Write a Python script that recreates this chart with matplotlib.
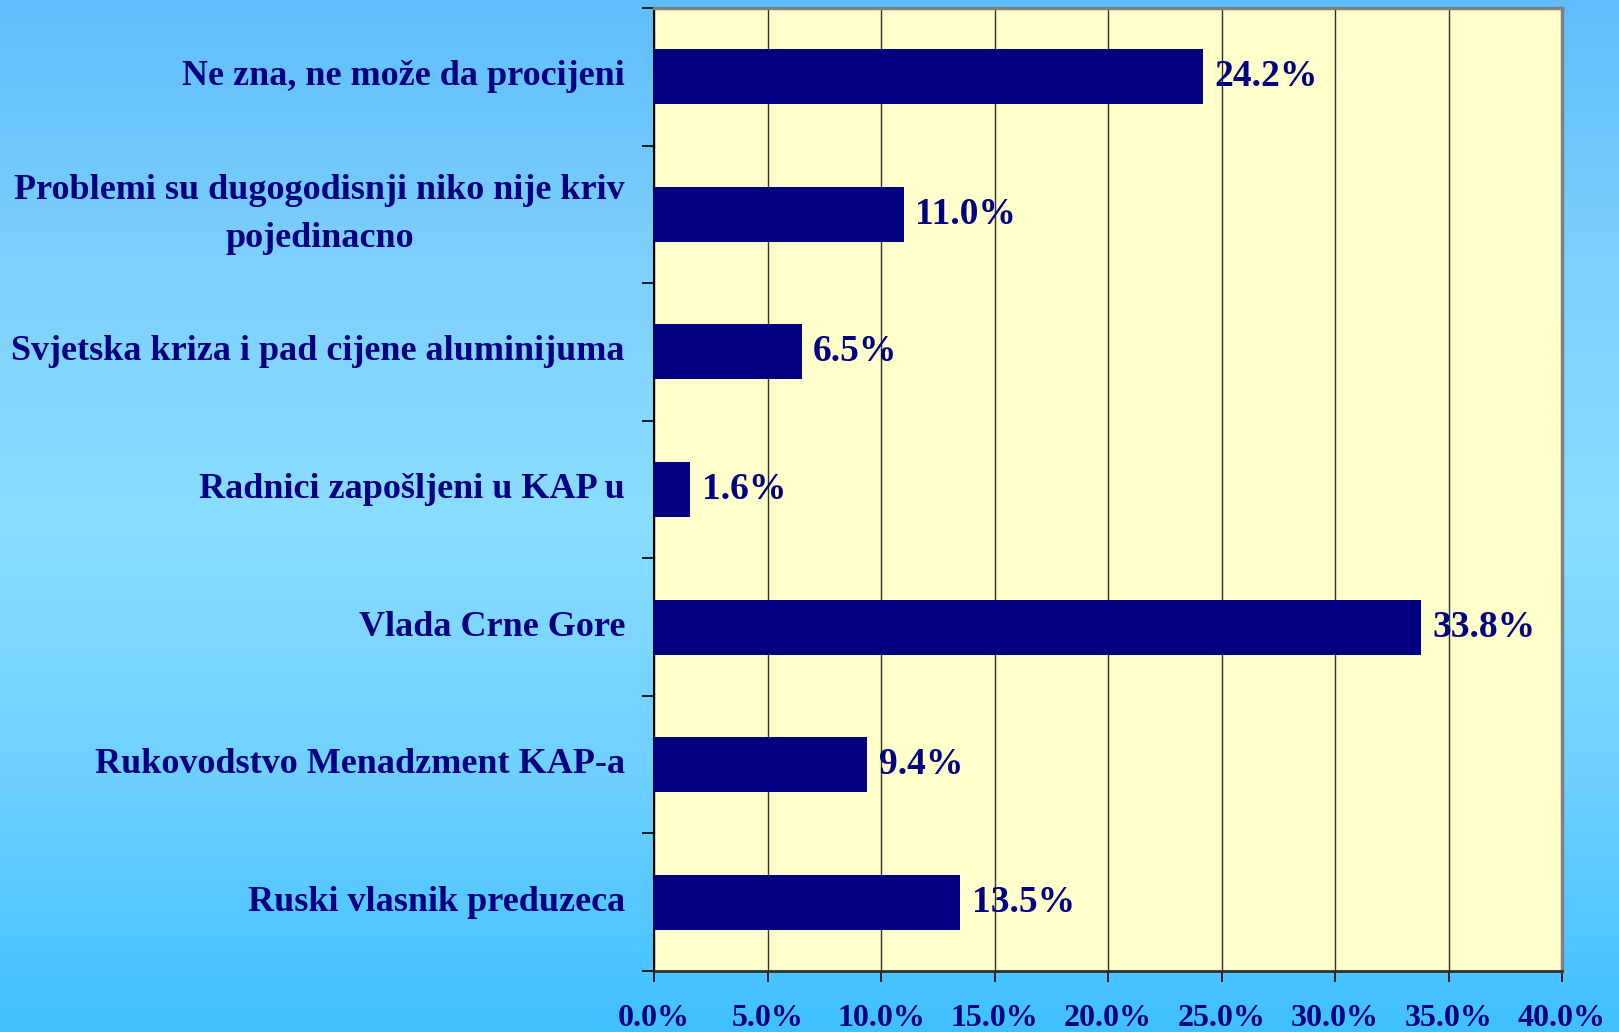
import numpy as np
import matplotlib.pyplot as plt
from matplotlib.colors import LinearSegmentedColormap

# === data ===
categories = [
    "Ne zna, ne može da procijeni",
    "Problemi su dugogodisnji niko nije kriv\npojedinacno",
    "Svjetska kriza i pad cijene aluminijuma",
    "Radnici zapošljeni u KAP u",
    "Vlada Crne Gore",
    "Rukovodstvo Menadzment KAP-a",
    "Ruski vlasnik preduzeca",
]
values = [24.2, 11.0, 6.5, 1.6, 33.8, 9.4, 13.5]
x_ticks = [0, 5, 10, 15, 20, 25, 30, 35, 40]

navy = "#000080"
plt.rcParams["font.family"] = ["Liberation Serif", "DejaVu Serif"]
plt.rcParams["font.weight"] = "bold"

W, H = 1619, 1032
fig = plt.figure(figsize=(W / 100, H / 100), dpi=100)

# === background gradient ===
bg = fig.add_axes([0, 0, 1, 1], zorder=0)
bg_cmap = LinearSegmentedColormap.from_list(
    "bg", [(0.0, "#5FBEFB"), (0.25, "#7DCFFD"), (0.5, "#8ADDFF"),
           (0.75, "#6FD0FF"), (1.0, "#40C0FF")])
grad = np.linspace(0, 1, 256).reshape(-1, 1)
bg.imshow(grad, aspect="auto", cmap=bg_cmap, extent=[0, 1, 0, 1], origin="upper")
bg.axis("off")

# === main axes ===
left, right, top, bottom = 654, 1562, 8, 971
ax = fig.add_axes([left / W, 1 - bottom / H, (right - left) / W, (bottom - top) / H], zorder=1)
ax.set_facecolor("#FFFFCC")

y = np.arange(len(categories))
ax.barh(y, values, height=0.4, color=navy, zorder=3)
ax.set_xlim(0, 40)
ax.set_ylim(len(categories) - 0.5, -0.5)

for yi, v in zip(y, values):
    ax.text(v + 0.5, yi, f"{v:.1f}%", va="center", ha="left",
            fontsize=27, color=navy, fontweight="bold", zorder=4)

# category labels as text so that multi-line labels stay centered
for yi, c in zip(y, categories):
    ax.text(-0.032, yi, c, transform=ax.get_yaxis_transform(), ha="right", va="center",
            multialignment="center", fontsize=26, color=navy, fontweight="bold",
            linespacing=1.6)

ax.set_yticks(np.arange(len(categories) + 1) - 0.5)
ax.set_yticklabels([])
ax.tick_params(axis="y", direction="out", length=9, width=1.2, color="black")

ax.set_xticks(x_ticks)
ax.set_xticklabels([f"{t:.1f}%" for t in x_ticks], fontsize=23, color=navy, fontweight="bold")
ax.tick_params(axis="x", direction="out", length=8, width=1.2, color="black", pad=16)
ax.grid(axis="x", color="#303030", linewidth=1.0, zorder=1)

ax.spines["left"].set_color("black")
ax.spines["left"].set_linewidth(1.5)
ax.spines["bottom"].set_color("#303030")
ax.spines["bottom"].set_linewidth(2)
ax.spines["top"].set_color("#808080")
ax.spines["top"].set_linewidth(2.5)
ax.spines["right"].set_color("#808080")
ax.spines["right"].set_linewidth(2.5)

plt.savefig("out.png", dpi=100)
plt.close()
